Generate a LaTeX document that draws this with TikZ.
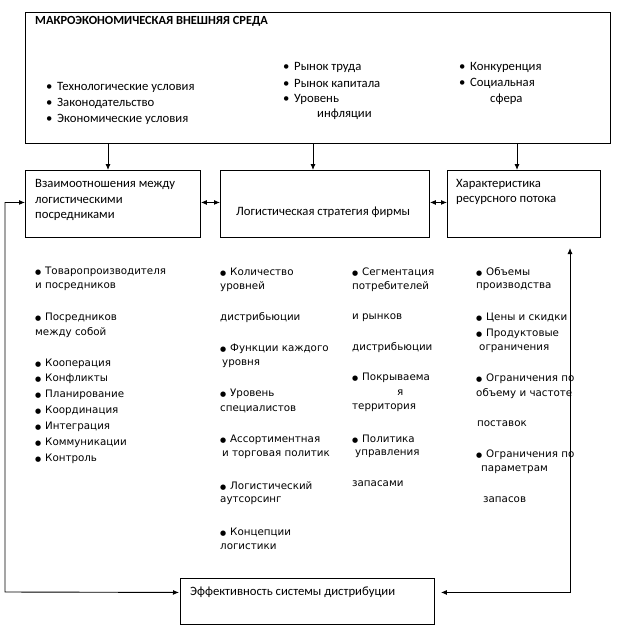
\documentclass[tikz,border=0pt]{standalone}
\usepackage{fontspec}
\setmainfont{Carlito}
\newfontfamily\colfont{DejaVu Sans}
\usetikzlibrary{arrows.meta,calc}
\newcommand{\bl}{\makebox[11pt][l]{•}}
\newcommand{\cb}{\makebox[10pt][l]{{\fontsize{7}{8}\selectfont ●}}}
\begin{document}
\begin{tikzpicture}[x=1pt,y=-1pt,
  box/.style={draw,line width=0.9pt,inner sep=0pt,anchor=north west},
  tt/.style={anchor=west,inner sep=0pt,font=\fontsize{12.7}{14}\selectfont},
  ct/.style={anchor=west,inner sep=0pt,font=\colfont\fontsize{10.3}{12}\selectfont},
  arr/.style={line width=0.9pt,-{Latex[length=6pt,width=5pt]}},
  darr/.style={line width=0.9pt,{Latex[length=6pt,width=5pt]}-{Latex[length=6pt,width=5pt]}}]
\useasboundingbox (0,0) rectangle (616,640);
% boxes
\node[box,minimum width=585pt,minimum height=131pt] (top) at (25,12) {};
\node[box,minimum width=175pt,minimum height=67pt] (lb) at (25,170) {};
\node[box,minimum width=209pt,minimum height=67pt] (mb) at (220,170) {};
\node[box,minimum width=153pt,minimum height=67pt] (rb) at (447,170) {};
\node[box,minimum width=254pt,minimum height=46pt] (eff) at (180,578) {};
% top texts
\node[tt,font=\bfseries\fontsize{12.4}{14}\selectfont] (t0) at (35,21) {МАКРОЭКОНОМИЧЕСКАЯ ВНЕШНЯЯ СРЕДА};
\node[tt] (t1) at (46,87) {\bl Технологические условия};
\node[tt] (t2) at (46,103) {\bl Законодательство};
\node[tt] (t3) at (46,119) {\bl Экономические условия};
\node[tt] (t4) at (283,67) {\bl Рынок труда};
\node[tt] (t5) at (283,83) {\bl Рынок капитала};
\node[tt] (t6) at (283,99) {\bl Уровень};
\node[tt] (t7) at (317,114) {инфляции};
\node[tt] (t8) at (459,67) {\bl Конкуренция};
\node[tt] (t9) at (459,83) {\bl Социальная};
\node[tt] (t10) at (490,99) {сфера};
% box texts
\node[tt] (l1) at (35,184) {Взаимоотношения между};
\node[tt] (l2) at (35,200) {логистическими};
\node[tt] (l3) at (35,216) {посредниками};
\node[tt] (m1) at (236,212) {Логистическая стратегия фирмы};
\node[tt] (r1) at (456,184) {Характеристика};
\node[tt] (r2) at (456,200) {ресурсного потока};
\node[tt] (e1) at (190,592) {Эффективность системы дистрибуции};
% column 1
\node[ct] (a1) at (35,272) {\cb Товаропроизводителя};
\node[ct] (a2) at (35,287) {и посредников};
\node[ct] (a3) at (35,318) {\cb Посредников};
\node[ct] (a4) at (35,333) {между собой};
\node[ct] (a5) at (35,364) {\cb Кооперация};
\node[ct] (a6) at (35,379) {\cb Конфликты};
\node[ct] (a7) at (35,395) {\cb Планирование};
\node[ct] (a8) at (35,411) {\cb Координация};
\node[ct] (a9) at (35,427) {\cb Интеграция};
\node[ct] (a10) at (35,443) {\cb Коммуникации};
\node[ct] (a11) at (35,459) {\cb Контроль};
% column 2
\node[ct] (b1) at (220,272) {\cb Количество};
\node[ct] (b2) at (220,287) {уровней};
\node[ct] (b3) at (220,318) {дистрибьюции};
\node[ct] (b4) at (220,349) {\cb Функции каждого};
\node[ct] (b5) at (222,364) {уровня};
\node[ct] (b6) at (220,394) {\cb Уровень};
\node[ct] (b7) at (220,409) {специалистов};
\node[ct] (b8) at (220,440) {\cb Ассортиментная};
\node[ct] (b9) at (222,455) {и торговая политик};
\node[ct] (b10) at (220,486) {\cb Логистический};
\node[ct] (b11) at (220,501) {аутсорсинг};
\node[ct] (b12) at (220,532) {\cb Концепции};
\node[ct] (b13) at (220,547) {логистики};
% column 3
\node[ct] (c1) at (352,272) {\cb Сегментация};
\node[ct] (c2) at (352,287) {потребителей};
\node[ct] (c3) at (352,318) {и рынков};
\node[ct] (c4) at (352,348) {дистрибьюции};
\node[ct] (c5) at (352,378) {\cb Покрываема};
\node[ct] (c6) at (397,393) {я};
\node[ct] (c7) at (352,408) {территория};
\node[ct] (c8) at (352,439) {\cb Политика};
\node[ct] (c9) at (355,454) {управления};
\node[ct] (c10) at (352,484) {запасами};
% column 4
\node[ct] (d1) at (476,272) {\cb Объемы};
\node[ct] (d2) at (476,287) {производства};
\node[ct] (d3) at (476,318) {\cb Цены и скидки};
\node[ct] (d4) at (476,334) {\cb Продуктовые};
\node[ct] (d5) at (479,349) {ограничения};
\node[ct] (d6) at (476,379) {\cb Ограничения по};
\node[ct] (d7) at (476,394) {объему и частоте};
\node[ct] (d8) at (477,424) {поставок};
\node[ct] (d9) at (476,455) {\cb Ограничения по};
\node[ct] (d10) at (481,470) {параметрам};
\node[ct] (d11) at (483,500) {запасов};
% connectors
\draw[arr] (108,0 |- top.south) -- (108,0 |- lb.north);
\draw[arr] (313,0 |- top.south) -- (313,0 |- mb.north);
\draw[arr] (517,0 |- top.south) -- (517,0 |- rb.north);
\draw[darr] ([yshift=1.5pt]lb.east) -- ([yshift=1.5pt]mb.west);
\draw[darr] ([yshift=1.5pt]mb.east) -- ([yshift=1.5pt]rb.west);
\coordinate (lc) at (5,592);
\coordinate (rc) at (570,248);
\draw[darr] ([yshift=9pt,xshift=-1pt]eff.west) -- (lc) |- ([yshift=1.5pt]lb.west);
\draw[darr] ([yshift=9pt,xshift=6pt]eff.east) -| (rc);
\end{tikzpicture}
\end{document}
